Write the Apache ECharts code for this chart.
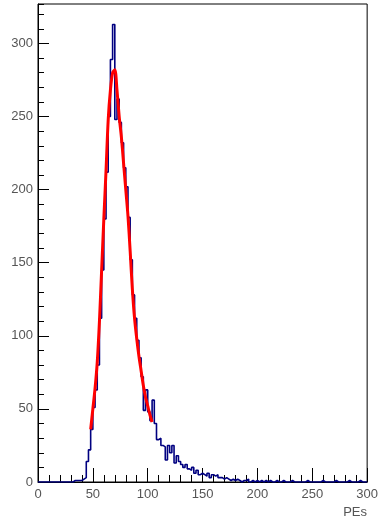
<!DOCTYPE html>
<html>
<head>
<meta charset="utf-8">
<script src="https://cdn.jsdelivr.net/npm/echarts@6/dist/echarts.min.js"></script>
<style>
html,body{margin:0;padding:0;background:#fff;}
#chart{width:381px;height:522px;}
</style>
</head>
<body>
<div id="chart"></div>
<script>
// Histogram: bin width 2, bins starting at 0
var binWidth = 2;
var binStart = 0;
var histCounts = [
  0,0,0,0,0,0,0,0,0,0,
  0,0,0,0,0,0,1,1,1,1,
  2,3,14,22,36,51,63,80,112,145,
  180,212,250,289,313,248,262,246,232,215,
  202,181,152,128,112,97,85,72,49,63,
  48,42,56,40,29,30,25,24,15,25,
  20,25,13,18,14,12,10,12,9,8,
  10,6,8,5,6,5,4,6,3,5,
  4,5,3,3,2,3,2,1,2,1,
  2,1,0,1,1,2,0,1,0,1,
  0,1,0,1,0,1,0,0,1,0,
  0,1,0,0,0,1,0,0,0,0,
  0,0,1,0,0,0,0,0,0,1,
  0,0,0,0,0,1,0,0,0,0,
  0,1,0,0,0,0,1,0,0,0
];
// Fit curve
var fitX = [48,50,52,54,56,58,60,62,64,66,68,70,72,74,76,78,80,82,84,86,88,90,92,94,96,98,100,102,104];
var fitY = [36,50,64,82,110,145,180,213,248,268,280,282,268,250,236,218,200,182,158,132,112,98,86,76,66,58,52,46,41];
var xTicks = [0,50,100,150,200,250,300];
var yTicks = [0,50,100,150,200,250,300];
var xTitle = 'PEs';

var histData = [];
for (var i = 0; i < histCounts.length; i++) {
  histData.push([binStart + i * binWidth, histCounts[i]]);
}
histData.push([binStart + histCounts.length * binWidth, histCounts[histCounts.length - 1]]);
var fitData = fitX.map(function (x, i) { return [x, fitY[i]]; });

var labelFont = {fontFamily: 'Liberation Sans, Arial, sans-serif', fontSize: 13, color: '#555'};

var chart = echarts.init(document.getElementById('chart'), null, {renderer: 'canvas'});
chart.setOption({
  animation: false,
  backgroundColor: '#fff',
  grid: {left: 38, right: 10, top: 4, bottom: 40, show: true, borderColor: '#000', borderWidth: 1, backgroundColor: 'transparent'},
  xAxis: {
    type: 'value', min: 0, max: 300, interval: 50,
    axisLine: {show: true, lineStyle: {color: '#000', width: 1}},
    axisTick: {show: true, inside: true, length: 14, lineStyle: {color: '#000', width: 1}},
    minorTick: {show: true, splitNumber: 5, length: 7, lineStyle: {color: '#000', width: 1}},
    splitLine: {show: false},
    axisLabel: Object.assign({margin: 6, formatter: function (v) { return xTicks.indexOf(v) >= 0 ? String(v) : ''; }}, labelFont)
  },
  yAxis: [{
    type: 'value', min: 0, max: 327, interval: 50, position: 'left', offset: 0,
    axisLine: {show: true, lineStyle: {color: '#000', width: 1}},
    axisTick: {show: true, inside: true, length: 11, lineStyle: {color: '#000', width: 1}},
    splitLine: {show: false},
    axisLabel: Object.assign({margin: 5, showMaxLabel: false, formatter: function (v) { return yTicks.indexOf(v) >= 0 ? String(v) : ''; }}, labelFont)
  }, {
    type: 'value', min: 0, max: 327, interval: 10, position: 'left', offset: 0,
    axisLine: {show: false},
    axisTick: {show: true, inside: true, length: 6, lineStyle: {color: '#000', width: 1}},
    splitLine: {show: false},
    axisLabel: {show: false}
  }],
  series: [{
    type: 'line', yAxisIndex: 0, data: histData, step: 'end', symbol: 'none',
    lineStyle: {color: '#000080', width: 1.6}, z: 2
  }, {
    type: 'line', yAxisIndex: 0, data: fitData, smooth: 0.3, symbol: 'none',
    lineStyle: {color: '#ff0000', width: 3}, z: 3
  }],
  graphic: [{
    type: 'text', right: 14, top: 506,
    style: {text: xTitle, font: '13px Liberation Sans, Arial, sans-serif', fill: '#555'}
  }]
});
</script>
</body>
</html>
